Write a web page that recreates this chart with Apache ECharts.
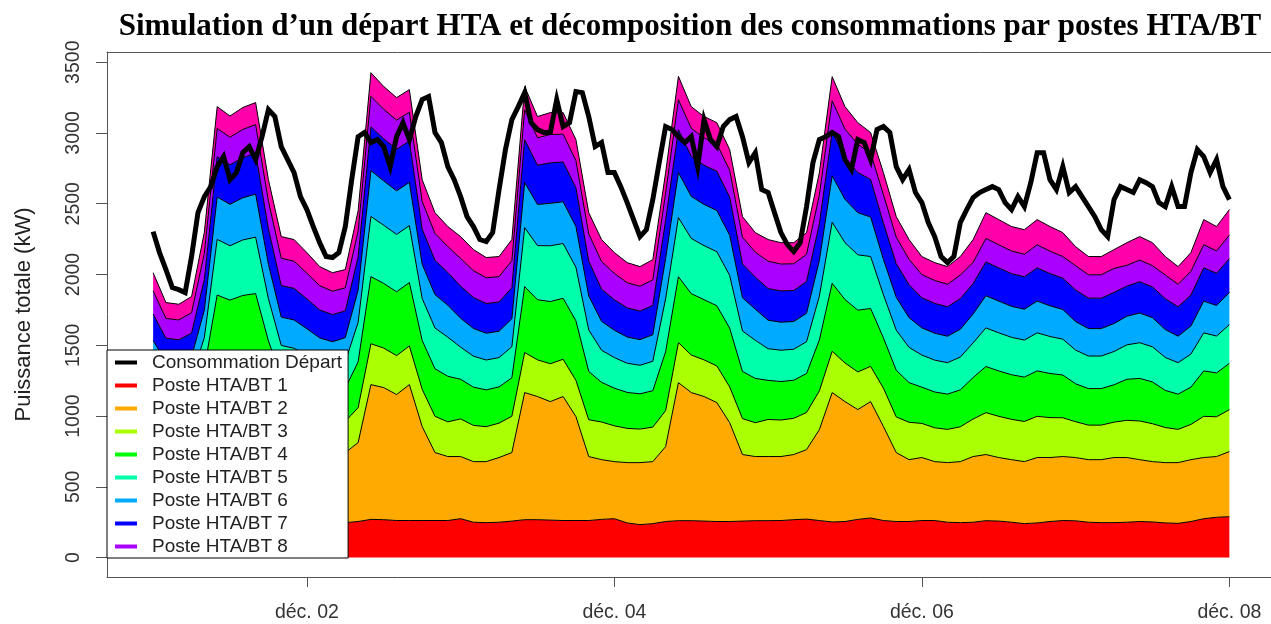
<!DOCTYPE html>
<html>
<head>
<meta charset="utf-8">
<script src="https://cdn.jsdelivr.net/npm/echarts/dist/echarts.min.js"></script>
<style>
  html, body { margin: 0; padding: 0; background: #fff; }
  #chart { width: 1271px; height: 624px; }
</style>
</head>
<body>
<div id="chart"></div>
<script>
// Hours since 1 Dec 00:00 for the substation layers (2 h step) and for the feeder curve (1 h step)
const stackHours = [0,2,4,6,8,10,12,14,16,18,20,22,24,26,28,30,32,34,36,38,40,42,44,46,48,50,52,54,56,58,60,62,64,66,68,70,72,74,76,78,80,82,84,86,88,90,92,94,96,98,100,102,104,106,108,110,112,114,116,118,120,122,124,126,128,130,132,134,136,138,140,142,144,146,148,150,152,154,156,158,160,162,164,166,168];
const lineHours = [0,1,2,3,4,5,6,7,8,9,10,11,12,13,14,15,16,17,18,19,20,21,22,23,24,25,26,27,28,29,30,31,32,33,34,35,36,37,38,39,40,41,42,43,44,45,46,47,48,49,50,51,52,53,54,55,56,57,58,59,60,61,62,63,64,65,66,67,68,69,70,71,72,73,74,75,76,77,78,79,80,81,82,83,84,85,86,87,88,89,90,91,92,93,94,95,96,97,98,99,100,101,102,103,104,105,106,107,108,109,110,111,112,113,114,115,116,117,118,119,120,121,122,123,124,125,126,127,128,129,130,131,132,133,134,135,136,137,138,139,140,141,142,143,144,145,146,147,148,149,150,151,152,153,154,155,156,157,158,159,160,161,162,163,164,165,166,167,168];

// Power per HTA/BT substation (kW)
const poste1 = [250,248,245,248,255,268,270,270,268,262,255,252,250,248,247,247,255,270,268,262,262,262,262,262,275,250,247,250,258,268,268,265,262,262,262,270,275,245,233,240,255,261,261,258,255,255,258,261,261,262,268,272,262,252,255,270,280,262,255,255,262,262,250,247,250,261,258,250,240,245,255,262,260,250,247,247,250,255,252,245,242,255,275,285,289];
const poste2 = [470,442,435,452,565,882,860,880,882,658,485,468,460,452,453,495,557,952,933,890,960,664,480,452,439,428,431,457,484,898,870,837,876,734,452,422,403,426,438,438,529,975,905,880,840,698,470,453,453,452,460,491,642,914,847,776,822,664,487,437,445,416,421,431,464,467,449,442,438,462,452,452,447,442,445,460,457,437,426,426,429,437,432,429,460];
const poste3 = [221,190,190,196,253,267,261,266,271,264,261,261,247,232,225,221,247,289,279,275,273,263,256,245,266,256,247,243,257,283,259,268,263,256,260,266,253,242,237,244,254,283,265,259,259,253,254,239,262,258,256,262,274,292,273,266,249,271,252,264,241,239,235,246,265,296,291,285,284,291,282,274,253,244,244,250,263,273,268,248,235,249,291,281,296];
const poste4 = [233,200,200,206,266,438,428,436,444,347,275,275,260,244,236,233,324,474,457,451,448,345,336,322,280,270,260,256,271,465,425,439,431,421,341,280,266,254,249,257,416,465,434,425,425,415,333,313,276,272,269,276,360,480,448,436,409,355,330,280,256,253,249,261,293,326,321,315,313,321,312,302,268,258,258,264,290,301,295,262,249,263,321,310,327];
const poste5 = [189,162,162,167,216,393,384,392,399,298,223,223,211,198,192,189,278,425,411,405,402,296,288,276,227,219,211,207,220,417,382,394,387,378,293,227,216,206,202,208,374,418,390,382,382,372,286,269,224,221,219,224,309,431,402,391,367,305,283,249,227,225,222,232,245,273,269,264,262,269,261,253,238,230,230,235,243,252,248,233,222,234,269,260,274];
const poste6 = [169,146,145,150,194,299,293,298,304,243,200,200,189,178,172,169,228,324,313,308,306,242,236,226,204,196,189,186,197,318,291,300,295,288,240,204,193,185,181,187,285,318,297,291,291,284,234,220,201,198,196,201,252,328,306,298,279,249,232,210,192,190,187,196,204,227,224,219,218,224,217,210,201,194,194,198,202,210,206,197,187,198,224,216,227];
const poste7 = [189,162,162,167,216,285,279,284,289,250,223,223,211,198,192,189,234,309,298,294,292,249,242,232,227,219,210,207,220,303,277,286,281,274,246,227,216,206,202,208,271,303,283,277,277,270,240,226,224,221,219,224,260,312,292,284,266,257,238,233,213,211,208,217,215,239,235,231,229,235,228,221,224,215,215,220,213,221,217,218,208,219,235,228,239];
const poste8 = [163,140,140,144,186,200,195,199,202,196,193,192,182,171,165,163,183,216,208,206,204,195,190,182,196,189,182,179,190,212,194,200,197,192,193,196,186,178,175,180,190,212,198,194,194,189,188,177,193,190,189,193,203,219,204,199,186,201,187,179,163,162,159,167,149,166,163,160,159,163,158,153,171,165,165,169,147,153,150,167,159,168,163,158,166];
const poste9 = [129,112,111,114,149,154,150,155,156,152,153,153,145,135,131,129,144,167,161,159,159,154,147,142,154,149,143,142,150,164,150,155,152,148,150,155,147,142,139,143,146,165,153,150,150,147,146,138,153,151,149,153,158,170,159,153,145,156,145,140,128,126,125,130,162,182,178,173,174,178,174,169,135,129,129,133,160,166,163,131,125,132,178,172,181];

// Measured feeder load (kW)
const departLoad = [2303,2155,2035,1908,1893,1872,2127,2437,2550,2621,2762,2833,2670,2720,2861,2904,2812,2974,3165,3116,2904,2812,2720,2550,2459,2339,2225,2127,2120,2155,2339,2670,2974,3003,2932,2953,2904,2762,2974,3073,2953,3116,3236,3257,3003,2932,2762,2670,2550,2409,2339,2247,2233,2296,2600,2883,3094,3186,3285,3073,3024,3003,3003,3236,3045,3073,3292,3285,3116,2904,2932,2720,2720,2621,2508,2388,2268,2317,2529,2791,3045,3024,2974,2932,2974,2762,3094,2953,2904,3045,3094,3116,2974,2791,2861,2600,2579,2437,2296,2211,2162,2225,2480,2791,2953,2974,3003,2974,2812,2741,2953,2932,2812,3024,3045,3003,2762,2670,2741,2579,2508,2367,2268,2127,2084,2127,2367,2459,2543,2579,2600,2621,2600,2508,2459,2550,2480,2649,2861,2861,2670,2600,2762,2579,2621,2550,2480,2409,2317,2268,2529,2621,2600,2579,2670,2649,2621,2508,2480,2621,2480,2480,2720,2883,2833,2720,2812,2621,2529];

const posteNames = ['Poste HTA/BT 1','Poste HTA/BT 2','Poste HTA/BT 3','Poste HTA/BT 4','Poste HTA/BT 5','Poste HTA/BT 6','Poste HTA/BT 7','Poste HTA/BT 8','Poste HTA/BT 9'];
const departName = 'Consommation Départ';
const legendNames = [departName,'Poste HTA/BT 1','Poste HTA/BT 2','Poste HTA/BT 3','Poste HTA/BT 4','Poste HTA/BT 5','Poste HTA/BT 6','Poste HTA/BT 7','Poste HTA/BT 8'];
const dayTicks = [24, 72, 120, 168];
const dayLabels = ['déc. 02', 'déc. 04', 'déc. 06', 'déc. 08'];
const powerTicks = [0, 500, 1000, 1500, 2000, 2500, 3000, 3500];
const titleText = 'Simulation d\u2019un départ HTA et décomposition des consommations par postes HTA/BT';
const axisTitle = 'Puissance totale (kW)';

const posteValues = [poste1, poste2, poste3, poste4, poste5, poste6, poste7, poste8, poste9];
const posteColors = ['#FF0000','#FFAA00','#AAFF00','#00FF00','#00FFAA','#00AAFF','#0000FF','#AA00FF','#FF00AA'];

const SANS = '"Liberation Sans", Arial, sans-serif';
const FRAME = { color: '#555', width: 1 };
const X_MIN = -7.2, X_MAX = 174.5;

// Layers are stacked on the power value: it is stored as the first column so that
// the stack is applied to kW, and the hour column is mapped to the x axis.
const layerSeries = posteValues.map((vals, k) => ({
  name: posteNames[k],
  type: 'line',
  stack: 'total',
  symbol: 'none',
  silent: true,
  z: 2,
  encode: { x: 1, y: 0 },
  itemStyle: { color: posteColors[k] },
  lineStyle: { color: '#000', width: 1 },
  areaStyle: { color: posteColors[k], opacity: 1 },
  data: stackHours.map((h, i) => [vals[i], h])
}));

const departSeries = {
  name: departName,
  type: 'line',
  symbol: 'none',
  silent: true,
  z: 5,
  itemStyle: { color: '#000' },
  lineStyle: { color: '#000', width: 5, join: 'miter' },
  data: lineHours.map((h, i) => [h, departLoad[i]])
};

const legendColor = name => name === departName ? '#000' : posteColors[posteNames.indexOf(name)];

const chart = echarts.init(document.getElementById('chart'), null, { renderer: 'canvas' });
chart.setOption({
  animation: false,
  backgroundColor: '#fff',
  graphic: [{
    type: 'text',
    x: 690,
    y: 27,
    silent: true,
    style: {
      text: titleText,
      align: 'center',
      verticalAlign: 'middle',
      font: 'bold 31px "Liberation Serif", "Times New Roman", serif',
      fill: '#000'
    }
  }],
  grid: { left: 107, top: 52, width: 1165, height: 525 },
  legend: {
    data: legendNames.map(n => ({ name: n, icon: 'rect', itemStyle: { color: legendColor(n), borderWidth: 0 } })),
    orient: 'vertical',
    left: 107, top: 350,
    itemWidth: 22, itemHeight: 4, itemGap: 4,
    padding: [3, 6, 2, 8],
    backgroundColor: '#fff',
    borderColor: '#000', borderWidth: 1,
    selectedMode: false,
    textStyle: { fontFamily: SANS, fontSize: 19, color: '#222', lineHeight: 19, padding: [0, 0, 0, 10] }
  },
  xAxis: [{
    type: 'value',
    position: 'bottom',
    min: X_MIN, max: X_MAX,
    axisLine: { show: true, onZero: false, lineStyle: FRAME },
    splitLine: { show: false },
    axisTick: { customValues: dayTicks, length: 10, lineStyle: { color: '#555' } },
    axisLabel: {
      customValues: dayTicks,
      formatter: v => dayLabels[dayTicks.indexOf(v)],
      margin: 26, fontFamily: SANS, fontSize: 19.5, color: '#333'
    }
  }, {
    // upper edge of the plot frame
    type: 'value',
    position: 'top',
    min: X_MIN, max: X_MAX,
    axisLine: { show: true, onZero: false, lineStyle: FRAME },
    axisTick: { show: false },
    axisLabel: { show: false },
    splitLine: { show: false }
  }],
  yAxis: {
    type: 'value',
    min: -137, max: 3572,
    axisLine: { show: true, onZero: false, lineStyle: FRAME },
    splitLine: { show: false },
    axisTick: { customValues: powerTicks, length: 11, lineStyle: { color: '#555' } },
    axisLabel: {
      customValues: powerTicks,
      formatter: v => String(v),
      rotate: 90, margin: 23, fontFamily: SANS, fontSize: 19.5, color: '#333'
    },
    name: axisTitle,
    nameLocation: 'middle',
    nameRotate: 90,
    nameGap: 72,
    nameTextStyle: { fontFamily: SANS, fontSize: 22, color: '#222' }
  },
  series: [...layerSeries, departSeries]
});
</script>
</body>
</html>
